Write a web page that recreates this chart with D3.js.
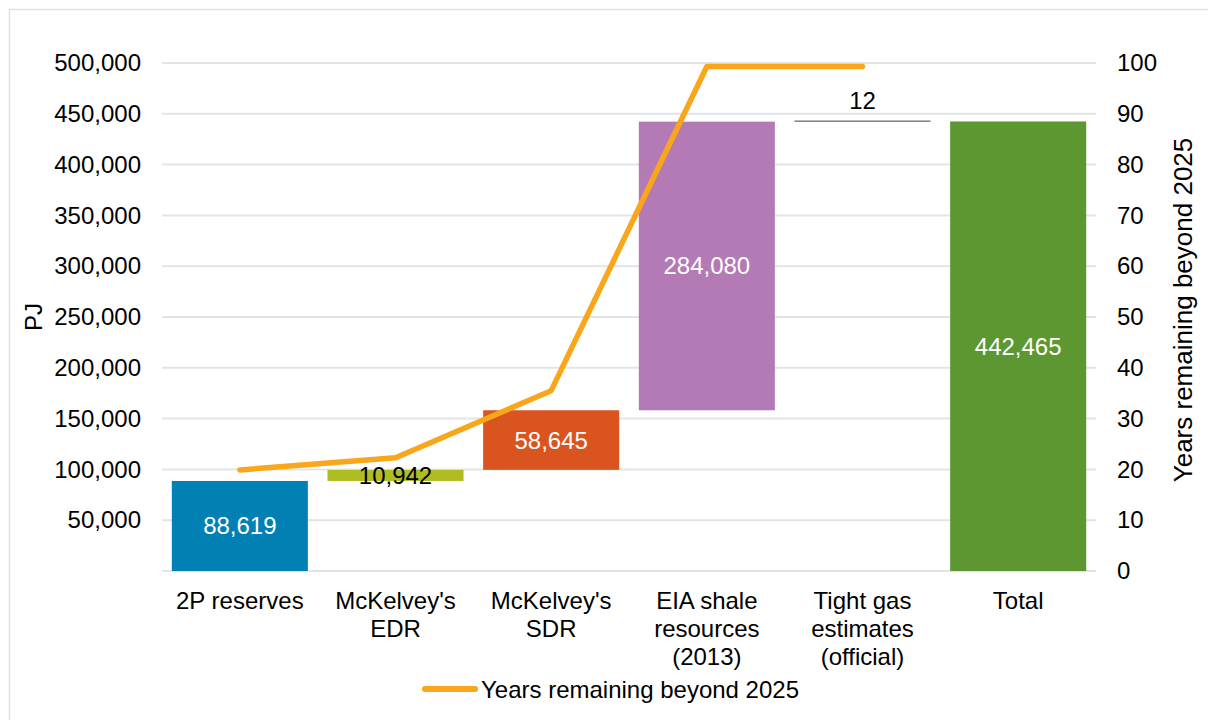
<!DOCTYPE html>
<html>
<head>
<meta charset="utf-8">
<script src="https://cdn.jsdelivr.net/npm/d3@7"></script>
<style>
  html, body { margin: 0; padding: 0; background: #fff; }
  svg { display: block; font-family: "Liberation Sans", Arial, sans-serif; }
</style>
</head>
<body>
<svg id="chart" width="1208" height="720"></svg>
<script>
// waterfall: categories, step values, colours, years-remaining line
const categories = ["2P reserves", "McKelvey's EDR", "McKelvey's SDR", "EIA shale resources (2013)", "Tight gas estimates (official)", "Total"];
const catLines = [["2P reserves"], ["McKelvey's", "EDR"], ["McKelvey's", "SDR"], ["EIA shale", "resources", "(2013)"], ["Tight gas", "estimates", "(official)"], ["Total"]];
const stepValues = [88619, 10942, 58645, 284080, 12, 442465];
const isTotal = [false, false, false, false, false, true];
const barColors = ["#0180b4", "#afbd22", "#d9541f", "#b37ab5", "#404040", "#5d9732"];
const labelColors = ["#fff", "#000", "#fff", "#fff", "#000", "#fff"];
const labelOutside = [false, false, false, false, true, false];
const yearsRemaining = [19.9, 22.3, 35.5, 99.3, 99.3, null];
const leftTicks = [50000, 100000, 150000, 200000, 250000, 300000, 350000, 400000, 450000, 500000];
const rightTicks = [0, 10, 20, 30, 40, 50, 60, 70, 80, 90, 100];

const d3 = window.d3;
const svg = d3.select("#chart");
const W = 1208, H = 720;
const margin = { top: 63, right: 112, bottom: 149, left: 162 };
const fs = 24;

// chart border
svg.append("rect")
  .attr("x", 9.5).attr("y", 9.5)
  .attr("width", W).attr("height", H)
  .attr("fill", "none").attr("stroke", "#dde1e4").attr("stroke-width", 1.5);

const x = d3.scaleBand()
  .domain(categories)
  .range([margin.left, W - margin.right])
  .paddingInner(0.126).paddingOuter(0.063);

const y = d3.scaleLinear().domain([0, 500000]).range([H - margin.bottom, margin.top]);
const y2 = d3.scaleLinear().domain([0, 100]).range([H - margin.bottom, margin.top]);

// gridlines (incl. baseline)
svg.append("g")
  .selectAll("line")
  .data([0].concat(leftTicks))
  .join("line")
  .attr("x1", margin.left).attr("x2", W - margin.right)
  .attr("y1", d => y(d)).attr("y2", d => y(d))
  .attr("stroke", "#e1e5e8").attr("stroke-width", 2);

// left axis
const fmt = d3.format(",");
const axL = svg.append("g")
  .attr("transform", `translate(${margin.left},0)`)
  .call(d3.axisLeft(y).tickValues(leftTicks).tickFormat(fmt).tickSize(0).tickPadding(21));
axL.select(".domain").remove();
axL.selectAll("text").attr("font-size", fs).attr("fill", "#000").attr("font-family", null);

// right axis
const axR = svg.append("g")
  .attr("transform", `translate(${W - margin.right},0)`)
  .call(d3.axisRight(y2).tickValues(rightTicks).tickSize(0).tickPadding(21));
axR.select(".domain").remove();
axR.selectAll("text").attr("font-size", fs).attr("fill", "#000").attr("font-family", null);

// waterfall bars
let run = 0;
const bars = stepValues.map((v, i) => {
  const b = isTotal[i] ? { lo: 0, hi: v } : { lo: run, hi: run + v };
  if (!isTotal[i]) run += v;
  return { cat: categories[i], ...b, v, i };
});

svg.append("g")
  .selectAll("rect")
  .data(bars)
  .join("rect")
  .attr("x", d => x(d.cat))
  .attr("width", x.bandwidth())
  .attr("y", d => Math.min(y(d.hi), y(d.lo) - 1))
  .attr("height", d => Math.max(1, y(d.lo) - y(d.hi)))
  .attr("fill", d => barColors[d.i]);

// bar labels
svg.append("g")
  .selectAll("text")
  .data(bars)
  .join("text")
  .attr("x", d => x(d.cat) + x.bandwidth() / 2)
  .attr("y", d => labelOutside[d.i] ? y(d.hi) - 13 : (y(d.hi) + y(d.lo)) / 2 + 8.5)
  .attr("text-anchor", "middle")
  .attr("font-size", fs)
  .attr("fill", d => labelColors[d.i])
  .text(d => fmt(d.v));

// years remaining line
const linePts = yearsRemaining.map((v, i) => ({ cat: categories[i], v })).filter(d => d.v != null);
svg.append("path")
  .datum(linePts)
  .attr("fill", "none")
  .attr("stroke", "#f9a61b")
  .attr("stroke-width", 5.5)
  .attr("stroke-linecap", "round")
  .attr("stroke-linejoin", "round")
  .attr("d", d3.line().x(d => x(d.cat) + x.bandwidth() / 2).y(d => y2(d.v)));

// category labels
const catG = svg.append("g");
catLines.forEach((lines, i) => {
  const t = catG.append("text")
    .attr("text-anchor", "middle")
    .attr("font-size", fs)
    .attr("fill", "#000");
  lines.forEach((ln, j) => {
    t.append("tspan")
      .attr("x", x(categories[i]) + x.bandwidth() / 2)
      .attr("y", 609 + j * 28)
      .text(ln);
  });
});

// axis titles
svg.append("text")
  .attr("transform", "translate(41.5,317) rotate(-90)")
  .attr("text-anchor", "middle")
  .attr("font-size", fs)
  .text("PJ");

svg.append("text")
  .attr("transform", "translate(1191.5,310) rotate(-90)")
  .attr("text-anchor", "middle")
  .attr("font-size", 26)
  .text("Years remaining beyond 2025");

// legend
const lg = svg.append("g").attr("transform", "translate(0,689)");
lg.append("line")
  .attr("x1", 425).attr("x2", 475)
  .attr("stroke", "#f9a61b").attr("stroke-width", 6).attr("stroke-linecap", "round");
lg.append("text")
  .attr("x", 481).attr("y", 8.5)
  .attr("font-size", fs)
  .text("Years remaining beyond 2025");
</script>
</body>
</html>
